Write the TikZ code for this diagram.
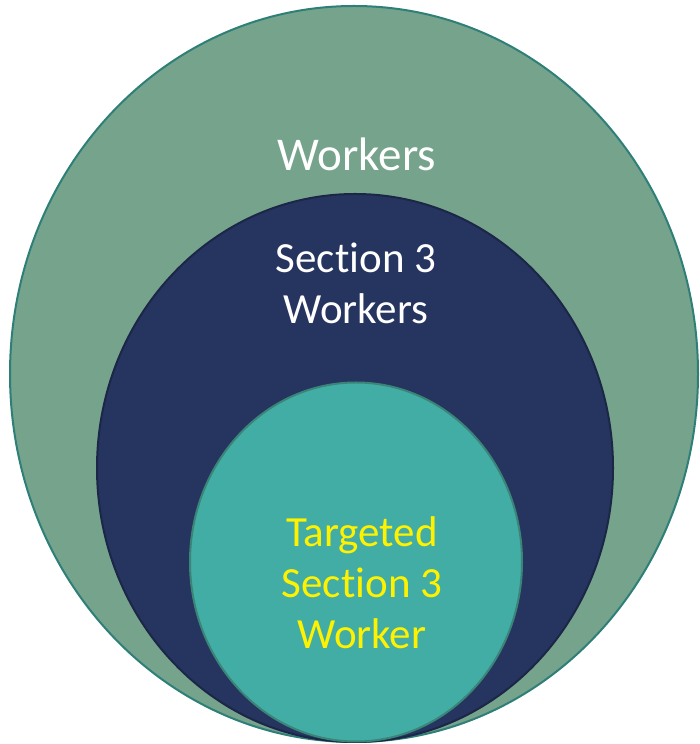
\documentclass[tikz,border=0pt]{standalone}
\usepackage{fontspec}
\setmainfont[RawFeature=-liga]{Carlito}
\usetikzlibrary{shapes.geometric}

\definecolor{workgreen}{HTML}{76A38B}
\definecolor{workedge}{HTML}{2E7F78}
\definecolor{secnavy}{HTML}{263460}
\definecolor{secedge}{HTML}{1C2748}
\definecolor{targteal}{HTML}{42ADA5}
\definecolor{targedge}{HTML}{3A8578}

\begin{document}
\begin{tikzpicture}[ x = 1pt
                     , y = 1pt
                     , every node/.style = { align = center
                                           , inner sep = 0pt
                                           , outer sep = 0pt }
                     , ring/.style = { ellipse
                                     , line width = 2pt }
                     , label/.style = { font = \fontsize{43}{51}\selectfont }
                     ]
  \useasboundingbox (0,0) rectangle (700,744);

  %%
  %% Nested circles
  %%
  \node (workers) [ring, fill = workgreen, draw = workedge,
                   minimum width = 688, minimum height = 736] at (354,370) {};
  \node (section) [ring, fill = secnavy, draw = secedge,
                   minimum width = 516, minimum height = 548] at (355,276) {};
  \node (targeted) [ring, fill = targteal, draw = targedge,
                    minimum width = 332, minimum height = 359] at (356,182) {};

  %%
  %% Labels
  %%
  \node (workerstext) [label, font = \fontsize{47}{54}\selectfont, text = white]
        at (357,590) {Workers};
  \node (sectiontext) [label, text = white] at (356,461)
        {Section 3\\Workers};
  \node (targetedtext) [label, text = yellow] at (362,161)
        {Targeted\\Section 3\\Worker};
\end{tikzpicture}
\end{document}
